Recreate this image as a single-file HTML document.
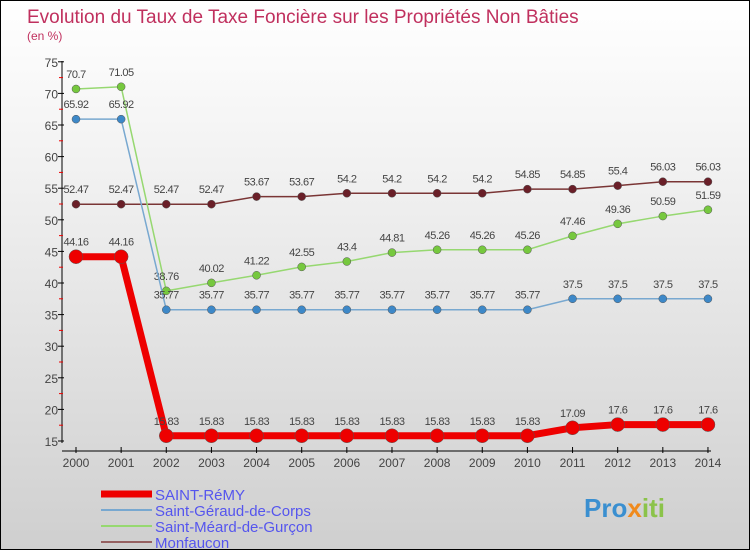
<!DOCTYPE html>
<html><head><meta charset="utf-8"><style>
body{margin:0}
#c{width:748px;height:548px;border:1px solid #000;background:linear-gradient(#fff,#f2f2f2 30%,#cfcfcf);position:relative;overflow:hidden;font-family:"Liberation Sans",sans-serif}
</style></head><body>
<div id="c">
<svg id="s" width="748" height="548" xmlns="http://www.w3.org/2000/svg" style="position:absolute;left:0;top:0"></svg>
</div>
<script>
const years=[2000,2001,2002,2003,2004,2005,2006,2007,2008,2009,2010,2011,2012,2013,2014];
const remy=[44.16,44.16,15.83,15.83,15.83,15.83,15.83,15.83,15.83,15.83,15.83,17.09,17.6,17.6,17.6];
const geraud=[65.92,65.92,35.77,35.77,35.77,35.77,35.77,35.77,35.77,35.77,35.77,37.5,37.5,37.5,37.5];
const meard=[70.7,71.05,38.76,40.02,41.22,42.55,43.4,44.81,45.26,45.26,45.26,47.46,49.36,50.59,51.59];
const monf=[52.47,52.47,52.47,52.47,53.67,53.67,54.2,54.2,54.2,54.2,54.85,54.85,55.4,56.03,56.03];
const yTicks=[15,20,25,30,35,40,45,50,55,60,65,70,75];
const NS="http://www.w3.org/2000/svg",s=document.getElementById('s');
const X=i=>75+i*45.14, Y=v=>440-(v-15)*6.32;
function el(t,a,p){const e=document.createElementNS(NS,t);for(const k in a)e.setAttribute(k,a[k]);(p||s).appendChild(e);return e;}
function tx(x,y,str,a){const e=el('text',Object.assign({x:x,y:y},a));e.textContent=str;return e;}
let t=tx(26,22,'Evolution du Taux de Taxe Foncière sur les Propriétés Non Bâties',{fill:'#c0305e','font-size':19});


t=tx(26,39,'(en %)',{fill:'#c0305e','font-size':12});


let ax=el('line',{x1:61,y1:60,x2:61,y2:442,stroke:'#000'});


ax=el('line',{x1:61,y1:450,x2:710,y2:450,stroke:'#000'});


yTicks.forEach(v=>{el('line',{x1:57,y1:Y(v),x2:63,y2:Y(v),stroke:'#000'});
 if(v<75)el('line',{x1:58,y1:Y(v+2.5),x2:62,y2:Y(v+2.5),stroke:'#e00'});
 const l=tx(57,Y(v)+5,v,{'text-anchor':'end','font-size':12,fill:'#444'});
 
 });
years.forEach((y,i)=>{el('line',{x1:X(i),y1:446,x2:X(i),y2:452,stroke:'#000'});
 const l=tx(X(i),466,y,{'text-anchor':'middle','font-size':12,fill:'#444'});
 
 });
function series(d,col,dot,w,r,name){
 const p=el('polyline',{points:d.map((v,i)=>X(i)+','+Y(v)).join(' '),fill:'none',stroke:col,'stroke-width':w});
 
 
 d.forEach((v,i)=>{const c=el('circle',{cx:X(i),cy:Y(v),r:r,fill:dot,stroke:'#555','stroke-width':0.5});
  
  
  const l=tx(X(i),Y(v)-11,String(v),{'text-anchor':'middle','font-size':11,fill:'#444','letter-spacing':'-0.5'});
  
  });
}
series(monf,'#7a3535','#6a1f28',1.5,4,'monfaucon');
series(meard,'#96d870','#76c83e',1.5,4,'saint-meard');
series(geraud,'#78a8d0','#3d88c8',1.5,4,'saint-geraud');
series(remy,'#ee0000','#ee0000',7,7,'saint-remy');
const leg=[['SAINT-RéMY','#ee0000',7],['Saint-Géraud-de-Corps','#78a8d0',2],['Saint-Méard-de-Gurçon','#96d870',2],['Monfaucon','#956060',2]];
leg.forEach((e,i)=>{const y=493+i*16;
 const g=el('g',{});
 el('line',{x1:100,y1:y,x2:151,y2:y,stroke:e[1],'stroke-width':e[2]},g);
 tx(154,y+6,e[0],{'font-size':15,fill:'#5555ee'});});
const lg=tx(583,516,'',{'font-size':26,'font-weight':'bold'});


[['Pro','#3a8fd0'],['x','#f08a1c'],['iti','#8bc34a']].forEach(p=>{const ts=el('tspan',{fill:p[1]},lg);ts.textContent=p[0];});
</script>
</body></html>
